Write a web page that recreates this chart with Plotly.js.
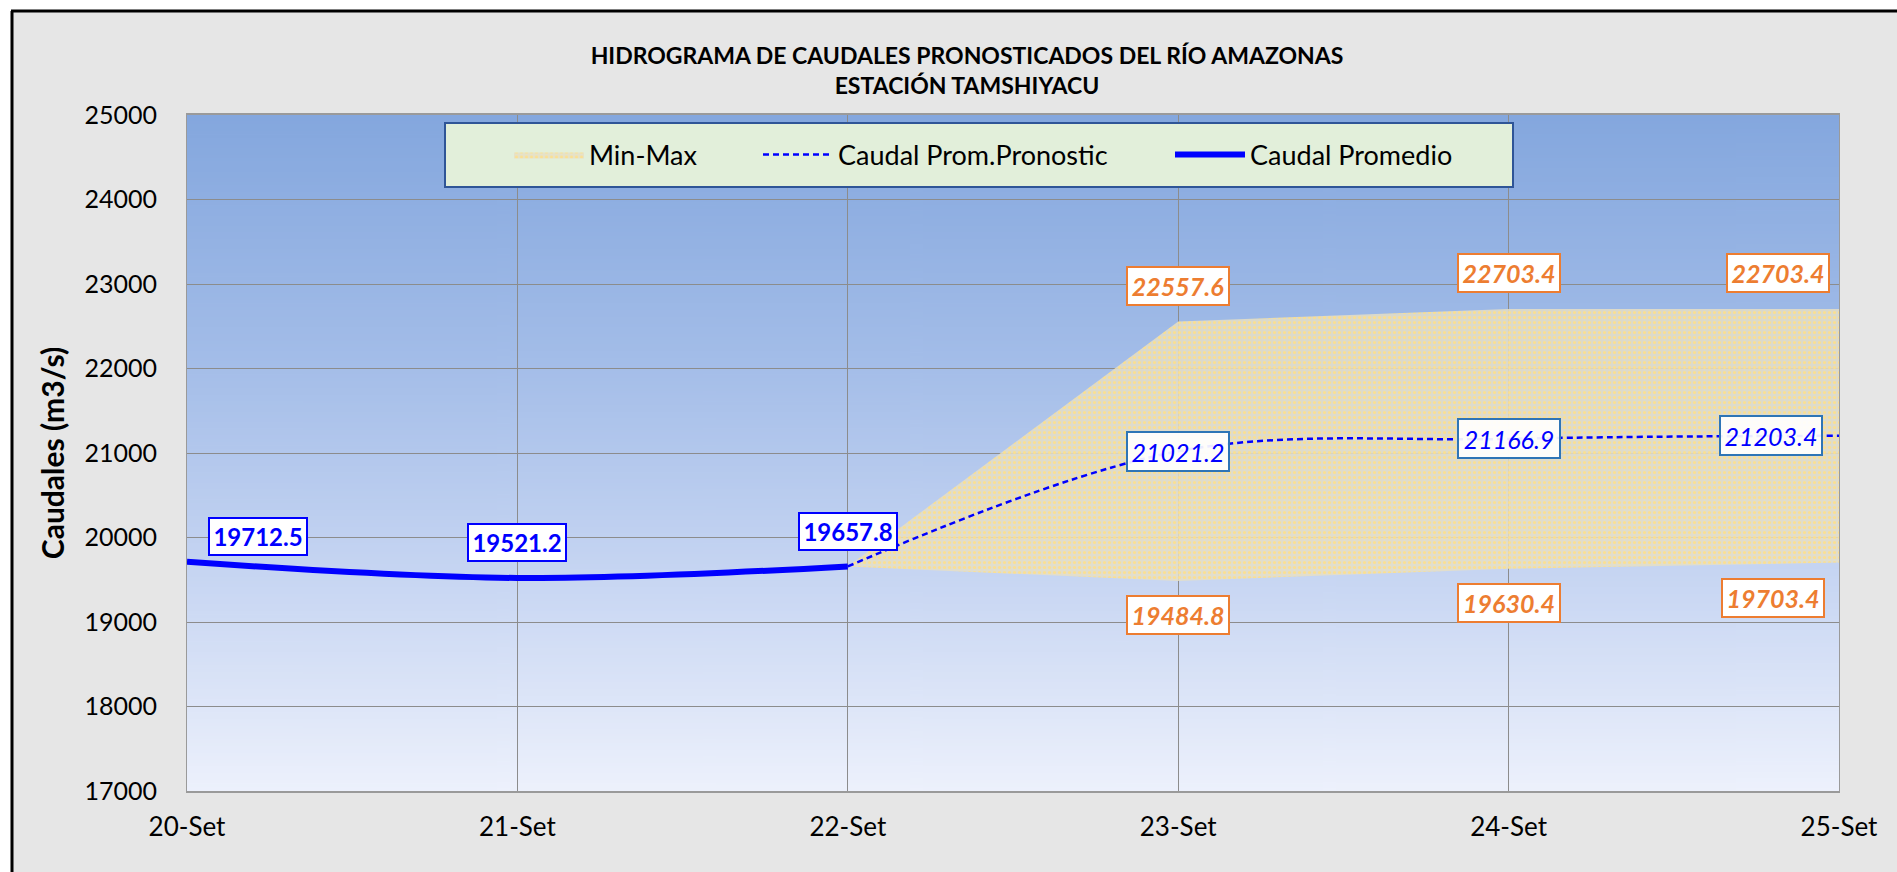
<!DOCTYPE html>
<html>
<head>
<meta charset="utf-8">
<script src="https://cdn.plot.ly/plotly-3.0.1.min.js"></script>
<style>html,body{margin:0;padding:0;background:#fff;}#chart{width:1897px;height:872px;}</style>
</head>
<body>
<div id="chart"></div>
<script>
// ---- data ----
const categories = ['20-Set', '21-Set', '22-Set', '23-Set', '24-Set', '25-Set'];
const caudalPromedio = [19712.5, 19521.2, 19657.8, null, null, null];
const caudalPronostico = [null, null, 19657.8, 21021.2, 21166.9, 21203.4];
const caudalMin = [null, null, 19657.8, 19484.8, 19630.4, 19703.4];
const caudalMax = [null, null, 19657.8, 22557.6, 22703.4, 22703.4];
const yTickValues = [17000, 18000, 19000, 20000, 21000, 22000, 23000, 24000, 25000];
const chartTitle = 'HIDROGRAMA DE CAUDALES PRONOSTICADOS DEL RÍO AMAZONAS<br>ESTACIÓN TAMSHIYACU';
const yTitle = 'Caudales (m3/s)';
const legendNames = ['Min-Max', 'Caudal Prom.Pronostic', 'Caudal Promedio'];

// ---- label placement (pixels) ----
const obsShift = [[71, 25], [0, 35], [0, 35], null, null, null];
const fcShift = [null, null, null, [0, 0], [0, 0], [-68, 0]];
const maxShift = [null, null, null, [0, 35], [0, 36], [-61, 36]];
const minShift = [null, null, null, [0, -34], [0, -34], [-66, -35]];

const FONT = 'Lato, "Open Sans", sans-serif';

// plot-area geometry in pixels
const L = 187, R = 1839, T = 115, B = 791;
const W = R - L, H = B - T;
const px = x => (x - L) / W;
const py = y => (B - y) / H;

function gradientURL() {
  const c = document.createElement('canvas');
  c.width = 8; c.height = 400;
  const g = c.getContext('2d');
  const grd = g.createLinearGradient(0, 0, 0, 400);
  grd.addColorStop(0, '#84a7de');
  grd.addColorStop(0.35, '#a2bce8');
  grd.addColorStop(0.7, '#c9d7f3');
  grd.addColorStop(1, '#edf1fc');
  g.fillStyle = grd;
  g.fillRect(0, 0, 8, 400);
  return c.toDataURL('image/png');
}

const traces = [
  {
    x: categories, y: caudalMin, type: 'scatter', mode: 'lines',
    line: {width: 0, color: 'rgba(0,0,0,0)'}, showlegend: false, hoverinfo: 'skip'
  },
  {
    x: categories, y: caudalMax, type: 'scatter', mode: 'lines', name: legendNames[0],
    fill: 'tonexty', fillcolor: 'rgba(236,228,192,0.85)',
    fillpattern: {shape: '.', fgcolor: 'rgba(255,224,135,0.85)', bgcolor: 'rgba(230,224,198,0.85)', size: 5, solidity: 0.3},
    line: {width: 0, color: 'rgba(0,0,0,0)'}, legend: 'legend'
  },
  {
    x: categories, y: caudalPronostico, type: 'scatter', mode: 'lines', name: legendNames[1],
    line: {color: '#0000ff', width: 2.5, dash: '6px,4px', shape: 'spline', smoothing: 1},
    legend: 'legend2'
  },
  {
    x: categories, y: caudalPromedio, type: 'scatter', mode: 'lines', name: legendNames[2],
    line: {color: '#0000ff', width: 6, shape: 'spline', smoothing: 1},
    legend: 'legend3'
  }
];

const annotations = [];
function addLabels(values, shifts, style) {
  values.forEach((v, i) => {
    if (v === null || !shifts[i]) return;
    annotations.push(Object.assign({
      x: categories[i], y: v, xref: 'x', yref: 'y', showarrow: false,
      text: v.toFixed(1), xanchor: 'center', yanchor: 'middle',
      xshift: shifts[i][0], yshift: shifts[i][1]
    }, JSON.parse(JSON.stringify(style))));
  });
}
addLabels(caudalPromedio, obsShift, {
  font: {family: FONT, size: 24, color: '#0000ff', weight: 'bold'},
  bgcolor: '#ffffff', bordercolor: '#0000ff', borderwidth: 2, borderpad: 2, width: 92, height: 31
});
addLabels(caudalPronostico, fcShift, {
  font: {family: FONT, size: 25, color: '#0000ff', style: 'italic'},
  bgcolor: 'rgba(255,255,255,0.92)', bordercolor: '#2e75b6', borderwidth: 2, borderpad: 2, width: 96, height: 33
});
addLabels(caudalMax, maxShift, {
  font: {family: FONT, size: 25, color: '#ed7d31', style: 'italic', weight: 'bold'},
  bgcolor: '#ffffff', bordercolor: '#ed7d31', borderwidth: 2, borderpad: 2, width: 96, height: 32
});
addLabels(caudalMin, minShift, {
  font: {family: FONT, size: 25, color: '#ed7d31', style: 'italic', weight: 'bold'},
  bgcolor: '#ffffff', bordercolor: '#ed7d31', borderwidth: 2, borderpad: 2, width: 96, height: 32
});

const legendCommon = {
  orientation: 'h', bgcolor: 'rgba(0,0,0,0)', borderwidth: 0,
  font: {family: FONT, size: 27, color: '#000000'}, itemwidth: 70,
  yanchor: 'middle', xanchor: 'left', y: py(155)
};

const layout = {
  width: 1897, height: 872,
  paper_bgcolor: '#e6e6e6', plot_bgcolor: 'rgba(0,0,0,0)',
  margin: {l: L, r: 1897 - R, t: T, b: 872 - B, pad: 0},
  title: {
    text: chartTitle, x: 967 / 1897, xanchor: 'center', y: 1 - 64 / 872, yanchor: 'middle',
    font: {family: FONT, size: 23, color: '#000000', weight: 'bold'}
  },
  xaxis: {
    type: 'category', range: [0, 5], showgrid: true, gridcolor: '#8c8c8c', gridwidth: 1,
    showline: true, linecolor: '#9a9a9a', linewidth: 2, mirror: true, zeroline: false,
    ticks: '', ticklabelstandoff: 12,
    tickfont: {family: FONT, size: 26, color: '#000000'}
  },
  yaxis: {
    range: [17000, 25000], tickmode: 'array', tickvals: yTickValues,
    ticktext: yTickValues.map(String),
    showgrid: true, gridcolor: '#8c8c8c', gridwidth: 1,
    showline: true, linecolor: '#9a9a9a', linewidth: 1, mirror: true, zeroline: false,
    ticks: '', ticklabelstandoff: 24,
    tickfont: {family: FONT, size: 25, color: '#000000'},
    title: {text: yTitle, standoff: 10, font: {family: FONT, size: 30, color: '#000000', weight: 'bold'}}
  },
  legend: Object.assign({}, legendCommon, {x: px(509)}),
  legend2: Object.assign({}, legendCommon, {x: px(758)}),
  legend3: Object.assign({}, legendCommon, {x: px(1170)}),
  images: [{
    source: gradientURL(), xref: 'paper', yref: 'paper', x: 0, y: 1, sizex: 1, sizey: 1,
    xanchor: 'left', yanchor: 'top', sizing: 'stretch', layer: 'below'
  }],
  shapes: [
    // white page margins outside the chart frame
    {type: 'rect', xref: 'paper', yref: 'paper', x0: -0.2, x1: 1.1, y0: py(11), y1: py(-5), fillcolor: '#ffffff', line: {width: 0}, layer: 'below'},
    {type: 'rect', xref: 'paper', yref: 'paper', x0: -0.2, x1: px(12), y0: py(900), y1: py(-5), fillcolor: '#ffffff', line: {width: 0}, layer: 'below'},
    // frame lines
    {type: 'line', xref: 'paper', yref: 'paper', x0: px(11), x1: 1.1, y0: py(11), y1: py(11), line: {color: '#000000', width: 3}},
    {type: 'line', xref: 'paper', yref: 'paper', x0: px(12), x1: px(12), y0: py(11), y1: py(900), line: {color: '#000000', width: 3}},
    // legend box
    {type: 'rect', xref: 'paper', yref: 'paper', x0: px(445), x1: px(1513), y0: py(187), y1: py(123),
     fillcolor: '#e2efda', line: {color: '#2f5597', width: 2}, layer: 'above'}
  ],
  annotations: annotations,
  showlegend: true
};

Plotly.newPlot('chart', traces, layout, {displayModeBar: false, staticPlot: true});
</script>
</body>
</html>
